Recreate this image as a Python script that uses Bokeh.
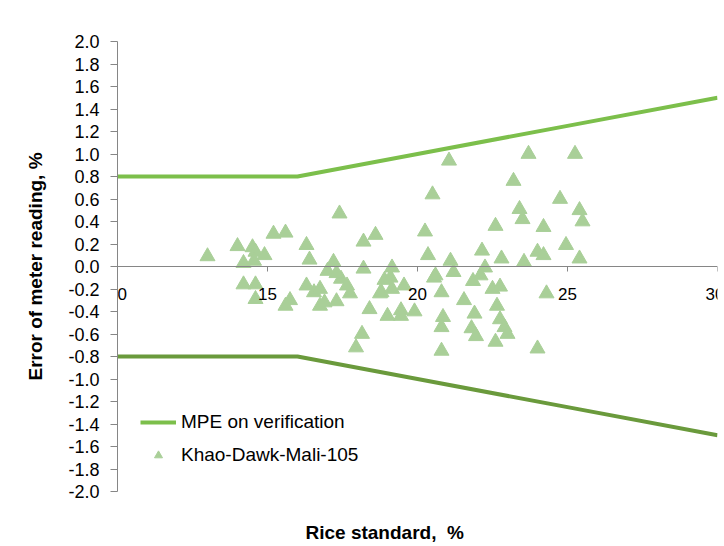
from bokeh.plotting import figure
from bokeh.models import (Legend, LegendItem, FixedTicker, NumeralTickFormatter,
                          Range1d, Title)
from bokeh.embed import file_html
from bokeh.resources import INLINE

# MPE on verification (limits)
mpe_x = [10, 16, 20, 25, 30]
mpe_upper = [0.8, 0.8, 1.0, 1.25, 1.5]
mpe_lower = [-0.8, -0.8, -1.0, -1.25, -1.5]

# Khao-Dawk-Mali-105 measurements
rice_x = [13.0, 14.0, 14.5, 14.6, 14.9, 14.2, 14.55, 15.2, 15.6, 16.3, 16.4, 14.2, 14.6, 14.6, 15.75, 15.6, 16.3, 16.55, 16.75, 16.75, 16.9,
          17.4, 17.2, 17.0, 17.3, 17.45, 17.65, 17.75, 17.3, 18.2, 18.6, 18.2, 18.4, 18.15, 17.95, 18.8, 18.9, 19.1, 19.15, 19.15, 19.0, 19.45, 19.45, 19.55, 19.9, 18.75,
          20.5, 20.25, 20.35, 20.55, 20.6, 20.8, 20.85, 20.8, 20.8, 21.05, 21.1, 21.2,
          21.55, 21.85, 22.1, 22.25, 21.9, 21.8, 21.95, 22.15, 22.6, 22.8, 22.5, 22.75, 22.65, 22.75, 22.9, 22.6, 23.0,
          23.2, 23.7, 23.4, 23.5, 23.55, 24.0, 24.2, 24.2, 24.75, 24.95, 25.25, 25.4, 25.5, 25.4, 24.3, 24.0]
rice_err = [0.09, 0.18, 0.17, 0.13, 0.10, 0.03, 0.05, 0.29, 0.30, 0.19, 0.06, -0.16, -0.16, -0.29, -0.30, -0.35, -0.17, -0.23, -0.20, -0.35, -0.32,
            0.47, 0.04, -0.04, -0.31, -0.11, -0.17, -0.24, -0.06, 0.22, 0.28, -0.02, -0.38, -0.60, -0.72, -0.23, -0.12, -0.10, -0.01, -0.20, -0.44, -0.39, -0.44, -0.17, -0.40, -0.24,
            0.64, 0.31, 0.10, -0.10, -0.08, -0.23, -0.45, -0.54, -0.75, 0.94, 0.05, -0.05,
            -0.30, -0.13, -0.08, -0.01, -0.42, -0.55, -0.62, 0.14, 0.36, 0.07, -0.20, -0.18, -0.35, -0.47, -0.54, -0.67, -0.60,
            0.76, 1.0, 0.51, 0.42, 0.04, 0.13, 0.10, 0.35, 0.60, 0.19, 1.0, 0.50, 0.40, 0.07, -0.24, -0.73]

x_ticks = [10, 15, 20, 25, 30]
y_ticks = [-2.0, -1.8, -1.6, -1.4, -1.2, -1.0, -0.8, -0.6, -0.4, -0.2, 0.0,
           0.2, 0.4, 0.6, 0.8, 1.0, 1.2, 1.4, 1.6, 1.8, 2.0]

FONT = "Liberation Sans"
AXIS_COLOR = "#868686"

p = figure(width=724, height=546, output_backend="svg", toolbar_location=None,
           x_range=Range1d(10, 30), y_range=Range1d(-2, 2),
           min_border_left=117, min_border_right=7, min_border_top=41,
           min_border_bottom=55)
p.outline_line_color = None
p.grid.grid_line_color = None
p.background_fill_color = "white"

upper = p.line(mpe_x, mpe_upper, line_color="#7cbf4b", line_width=4)
lower = p.line(mpe_x, mpe_lower, line_color="#6a9a3c", line_width=4)
pts = p.scatter(rice_x, rice_err, marker="triangle", size=15,
                fill_color="#a9cf98", line_color="#a9cf98")

# x axis crossing at y = 0
xa = p.xaxis[0]
xa.fixed_location = 0
xa.ticker = FixedTicker(ticks=x_ticks)
xa.axis_line_color = AXIS_COLOR
xa.major_tick_line_color = AXIS_COLOR
xa.major_tick_in = 0
xa.major_tick_out = 5
xa.minor_tick_line_color = None
xa.major_label_standoff = 16
xa.major_label_text_font = FONT
xa.major_label_text_font_size = "17px"
xa.major_label_text_color = "#000000"

ya = p.yaxis[0]
ya.ticker = FixedTicker(ticks=y_ticks)
ya.formatter = NumeralTickFormatter(format="0.0")
ya.axis_line_color = AXIS_COLOR
ya.major_tick_line_color = AXIS_COLOR
ya.major_tick_in = 0
ya.major_tick_out = 7
ya.minor_tick_line_color = None
ya.major_label_standoff = 11
ya.major_label_text_font = FONT
ya.major_label_text_font_size = "18px"
ya.major_label_text_color = "#000000"
ya.axis_label = "Error of meter reading, %"
ya.axis_label_text_font = FONT
ya.axis_label_text_font_size = "19px"
ya.axis_label_text_font_style = "bold"
ya.axis_label_text_color = "#000000"
ya.axis_label_standoff = 19

# spacer panel so the x-axis title sits lower, as in the reference
spacer = Title(text=" ", text_font_size="1px", standoff=27, vertical_align="top")
p.add_layout(spacer, "below")
xtitle = Title(text="Rice standard,\u00a0 %", align="left", offset=188, standoff=0,
               vertical_align="top",
               text_font=FONT, text_font_size="19px", text_font_style="bold",
               text_color="#000000")
p.add_layout(xtitle, "below")

legend = Legend(items=[LegendItem(label="MPE on verification", renderers=[upper]),
                       LegendItem(label="Khao-Dawk-Mali-105", renderers=[pts])],
                location=(23, 25), orientation="vertical",
                background_fill_alpha=0, border_line_alpha=0,
                padding=0, margin=0, spacing=11,
                glyph_width=36, glyph_height=20, label_standoff=5,
                label_text_font=FONT, label_text_font_size="19px",
                label_text_color="#000000")
p.add_layout(legend)

open("out.html", "w").write(file_html(p, INLINE))
